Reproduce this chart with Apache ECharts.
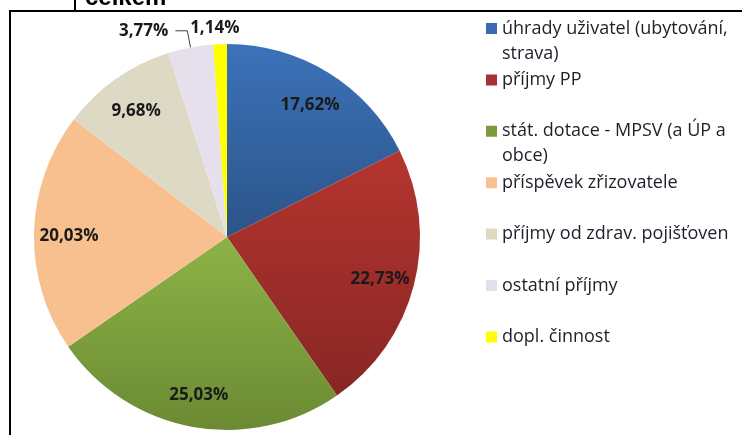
<!DOCTYPE html>
<html>
<head>
<meta charset="utf-8">
<script src="https://cdn.jsdelivr.net/npm/echarts@6/dist/echarts.min.js"></script>
<style>
  html, body { margin: 0; padding: 0; background: #fff; }
  #chart { width: 742px; height: 435px; }
</style>
</head>
<body>
<div id="chart"></div>
<script>
// kategorie a podíly (%)
var categories = [
  'úhrady uživatel (ubytování,\nstrava)',
  'příjmy PP',
  'stát. dotace - MPSV (a ÚP a\nobce)',
  'příspěvek zřizovatele',
  'příjmy od zdrav. pojišťoven',
  'ostatní příjmy',
  'dopl. činnost'
];
var shares = [17.62, 22.73, 25.03, 20.03, 9.68, 3.77, 1.14];
var sliceTop    = ['#3c72b9', '#b5352f', '#8db347', '#f9c08f', '#ddd9c4', '#e5e0ec', '#ffff00'];
var sliceBottom = ['#2b5489', '#882624', '#6b8a33', '#f9c08f', '#ddd9c4', '#e5e0ec', '#ffff00'];
var legendColors = ['#3a6bb0', '#a83232', '#7a9a3c', '#fac090', '#ddd9c3', '#e4dfec', '#ffff00'];

function fmt(v) {
  return v.toFixed(2).replace('.', ',') + '%';
}

var myChart = echarts.init(document.getElementById('chart'));

var mainData = shares.map(function (v, i) {
  var item = {
    name: categories[i],
    value: v,
    itemStyle: {
      color: {
        type: 'linear', x: 0, y: 0, x2: 0, y2: 1,
        colorStops: [{ offset: 0, color: sliceTop[i] }, { offset: 1, color: sliceBottom[i] }]
      }
    }
  };
  if (i === 5) {
    item.label = { show: true, position: 'outside', distanceToLabelLine: 7 };
    item.labelLine = { show: true, length: 17, length2: 12 };
  }
  if (i === 6) {
    item.label = { show: true, position: 'outside' };
    item.labelLine = { show: false, length: 8, length2: 0 };
  }
  return item;
});

var labelData = shares.map(function (v, i) {
  return { name: categories[i], value: v, label: { show: i < 5 } };
});

var labelFont = {
  fontFamily: 'Open Sans',
  fontWeight: 'bold',
  fontSize: 17,
  color: '#1a1a1a'
};

var option = {
  animation: false,
  legend: {
    orient: 'vertical',
    left: 481,
    top: 11,
    itemWidth: 11,
    itemHeight: 36,
    itemGap: 1.4,
    icon: 'path://M0,0h11v11h-11z M0,36 L11,36',
    selectedMode: false,
    data: categories.map(function (c, i) {
      return { name: c, itemStyle: { color: legendColors[i], borderWidth: 0 } };
    }),
    formatter: function (name) {
      return name.indexOf('\n') < 0 ? name + '\n ' : name;
    },
    textStyle: {
      fontFamily: 'Open Sans',
      fontSize: 18,
      lineHeight: 25,
      color: '#1f1f2a'
    }
  },
  series: [
    {
      type: 'pie',
      center: [227, 237],
      radius: 193,
      startAngle: 90,
      clockwise: true,
      avoidLabelOverlap: false,
      silent: true,
      itemStyle: { borderWidth: 0 },
      label: Object.assign({
        show: false,
        formatter: function (p) { return fmt(p.value); }
      }, labelFont),
      labelLine: {
        lineStyle: { color: '#404040', width: 1 }
      },
      labelLayout: function (p) {
        if (p.dataIndex === 6) {
          return { align: 'center', dy: -8 };
        }
      },
      data: mainData
    },
    {
      // jen popisky uvnitř výsečí
      type: 'pie',
      center: [227, 237],
      radius: [0, 310],
      startAngle: 90,
      clockwise: true,
      silent: true,
      avoidLabelOverlap: false,
      itemStyle: { color: 'rgba(0,0,0,0)', borderWidth: 0 },
      label: Object.assign({
        position: 'inside',
        formatter: function (p) { return fmt(p.value); }
      }, labelFont),
      labelLayout: { dy: 3 },
      labelLine: { show: false },
      data: labelData
    }
  ],
  graphic: [
    {
      type: 'polyline',
      shape: { points: [[10, 435], [10, 11], [742, 11]] },
      style: { stroke: '#000', lineWidth: 2, fill: null }
    },
    {
      type: 'line',
      shape: { x1: 75, y1: 0, x2: 75, y2: 11 },
      style: { stroke: '#000', lineWidth: 2 }
    },
    {
      type: 'text',
      x: 85,
      y: -2,
      style: {
        text: 'celkem',
        font: 'bold 24px "Liberation Sans"',
        fill: '#000',
        verticalAlign: 'middle'
      }
    }
  ]
};

myChart.setOption(option);
</script>
</body>
</html>
